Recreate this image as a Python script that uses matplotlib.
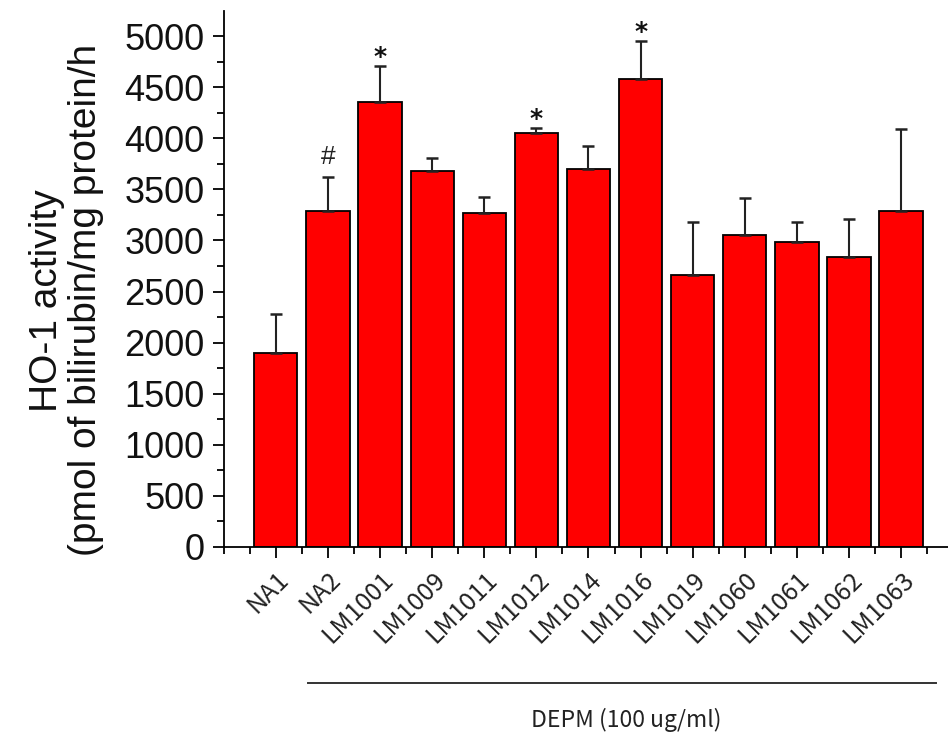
import matplotlib
matplotlib.use("Agg")
import matplotlib.pyplot as plt
import numpy as np
from matplotlib.ticker import MultipleLocator

# values
groups = ['NA1', 'NA2', 'LM1001', 'LM1009', 'LM1011', 'LM1012', 'LM1014',
          'LM1016', 'LM1019', 'LM1060', 'LM1061', 'LM1062', 'LM1063']
activity = [1900, 3290, 4355, 3680, 3270, 4050, 3700, 4580, 2660, 3050, 2985, 2840, 3290]
sd = [380, 330, 350, 125, 155, 50, 225, 370, 520, 370, 195, 370, 800]
marks = ['', '#', '*', '', '', '*', '', '*', '', '', '', '', '']

fig = plt.figure(figsize=(9.48, 7.46), dpi=100)
ax = fig.add_axes([0.236, 0.267, 0.764, 0.718])

x = np.arange(1, len(groups) + 1)
ax.bar(x, activity, width=0.83, color='#ff0000', edgecolor='black', linewidth=1.3, zorder=2)
ax.errorbar(x, activity, yerr=[np.zeros(len(sd)), sd], fmt='none', ecolor='#222222',
            elinewidth=1.5, capsize=4, capthick=1.8, zorder=3)

# significance marks above the error bars
for xi, v, s, m in zip(x, activity, sd, marks):
    if m == '*':
        ax.text(xi, v + s + 90, '*', ha='center', va='center', fontsize=18,
                fontfamily='DejaVu Sans', fontweight='bold', color='#111111')
    elif m == '#':
        ax.text(xi, v + s + 200, '#', ha='center', va='center', fontsize=19,
                fontfamily='Liberation Sans', color='#222222')

ax.set_xlim(0, 13.9)
ax.set_ylim(0, 5245)
ax.yaxis.set_major_locator(MultipleLocator(500))
ax.yaxis.set_minor_locator(MultipleLocator(250))
ax.set_xticks(x)
ax.xaxis.set_minor_locator(MultipleLocator(0.5))
ax.set_xticklabels(groups, rotation=45, ha='right', va='top', rotation_mode='anchor',
                   fontsize=18, fontfamily='Noto Sans CJK KR', color='#222222')
for lab in ax.get_yticklabels():
    lab.set_fontfamily('Liberation Sans')
    lab.set_fontsize(26)
    lab.set_color('#111111')

ax.tick_params(axis='both', which='major', direction='out', length=8, width=1.3)
ax.tick_params(axis='both', which='minor', direction='out', length=5, width=1.3)
ax.tick_params(axis='x', which='major', pad=6)
ax.tick_params(axis='y', which='major', pad=6)
for side in ['top', 'right']:
    ax.spines[side].set_visible(False)
for side in ['left', 'bottom']:
    ax.spines[side].set_linewidth(1.3)

ax.set_ylabel('HO-1 activity\n(pmol of bilirubin/mg protein/h', fontsize=28,
              fontfamily='Liberation Sans', linespacing=1.1, color='#111111')
ax.yaxis.set_label_coords(-0.165, 0.46)

# group bracket under the LM samples
fig.add_artist(plt.Line2D([308 / 948, 936 / 948], [1 - 683 / 746, 1 - 683 / 746],
                          color='#333333', linewidth=1.4))
fig.text(626 / 948, 1 - 720 / 746, 'DEPM (100 ug/ml)', ha='center', va='center',
         fontsize=16.5, fontfamily='Noto Sans CJK KR', color='#222222')

fig.savefig('out.png', dpi=100)
